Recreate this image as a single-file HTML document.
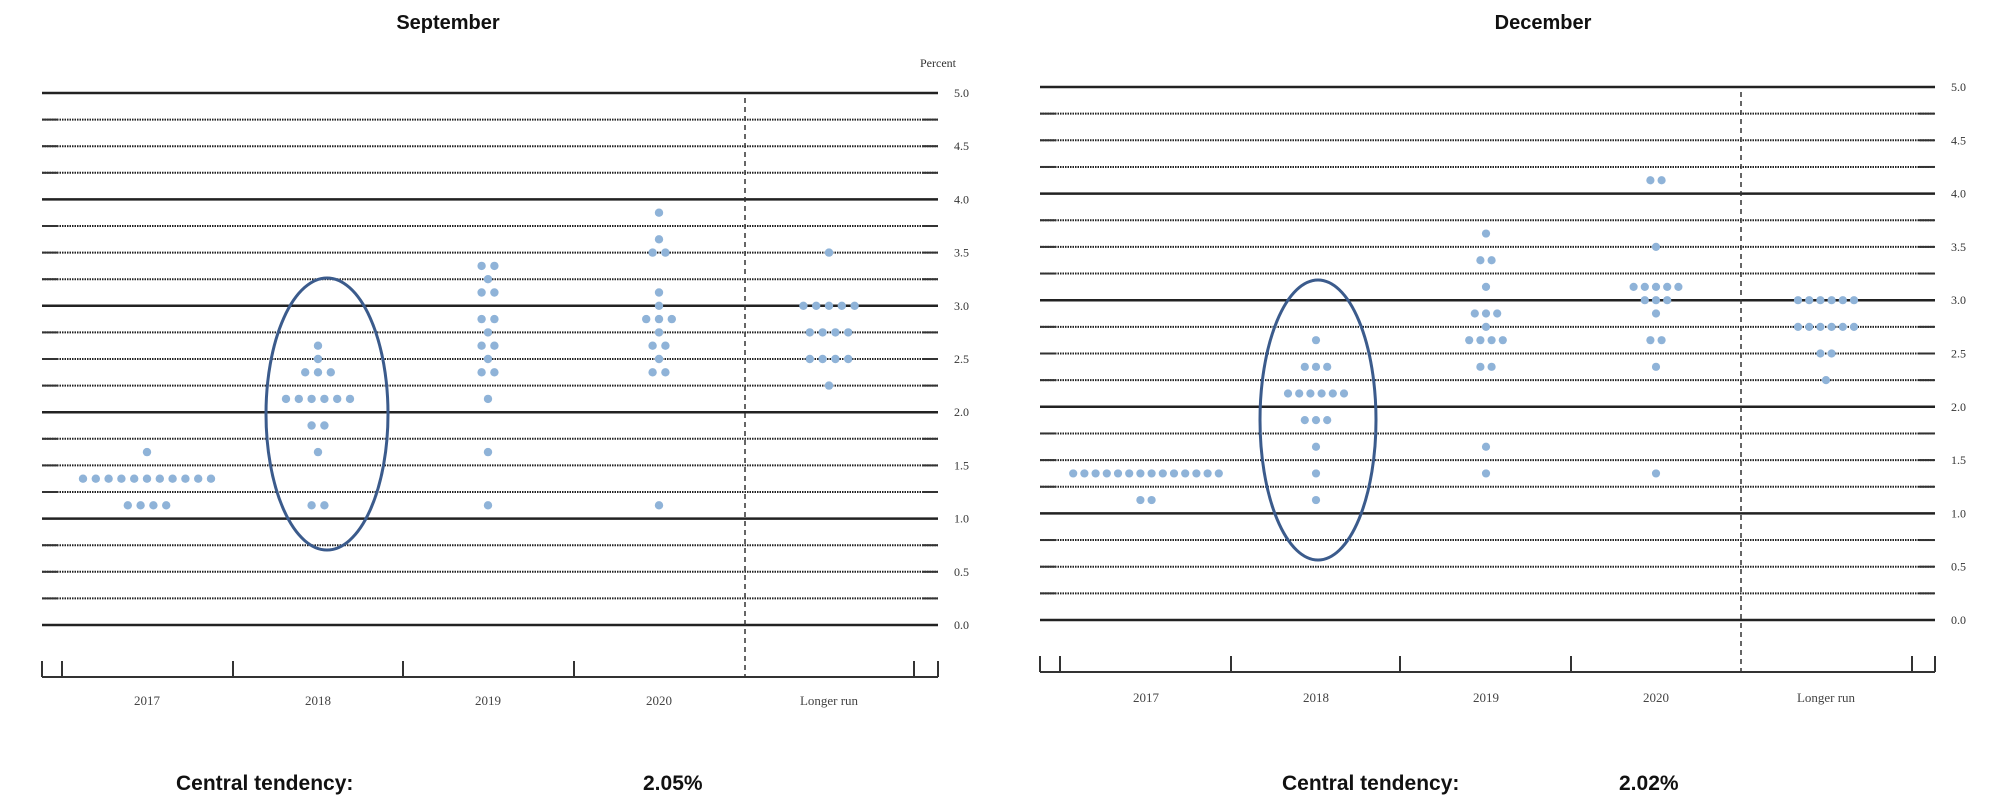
<!DOCTYPE html>
<html><head><meta charset="utf-8"><style>
html,body{margin:0;padding:0;background:#fff;}
svg{display:block;}
.t{font-family:"Liberation Sans",sans-serif;font-weight:bold;font-size:20px;fill:#111;}
.ax{font-family:"Liberation Serif",serif;font-size:12px;fill:#333;}
.yr{font-family:"Liberation Serif",serif;font-size:13px;fill:#444;}
.ct{font-family:"Liberation Sans",sans-serif;font-weight:bold;font-size:21px;fill:#111;}
</style></head><body>
<svg id="s" width="1996" height="808" xmlns="http://www.w3.org/2000/svg">
<text class="t" x="448" y="29" text-anchor="middle">September</text>
<text class="t" x="1543" y="29" text-anchor="middle">December</text>
<text class="ax" x="938" y="67" text-anchor="middle" font-size="10">Percent</text>
<text class="ct" x="176" y="790">Central tendency:</text>
<text class="ct" x="643" y="790">2.05%</text>
<text class="ct" x="1282" y="790">Central tendency:</text>
<text class="ct" x="1619" y="790">2.02%</text>
<g id="g"></g>
</svg>
<script>
var NS="http://www.w3.org/2000/svg",g=document.getElementById("g");
function el(n,a,t){var e=document.createElementNS(NS,n);for(var k in a)e.setAttribute(k,a[k]);if(t)e.textContent=t;g.appendChild(e);return e;}
function chart(c){
  var L=c.x0,R=c.x1,st=(c.y0-c.y5)/20;
  for(var i=0;i<=20;i++){var y=c.y0-i*st;
    if(i%4==0){el("line",{x1:L,x2:R,y1:y,y2:y,stroke:"#222","stroke-width":2.5});}
    else{el("line",{x1:L,x2:R,y1:y,y2:y,stroke:"#222","stroke-width":2,"stroke-dasharray":"1.5 1"});
      el("line",{x1:L,x2:L+16,y1:y,y2:y,stroke:"#333","stroke-width":2});
      el("line",{x1:R-16,x2:R,y1:y,y2:y,stroke:"#333","stroke-width":2});}
    if(i%2==0)el("text",{"class":"ax",x:R+16,y:y+4},(i/4).toFixed(1));
  }
  el("line",{x1:c.dash,x2:c.dash,y1:c.y5+5,y2:c.ab,stroke:"#333","stroke-width":1.5,"stroke-dasharray":"5 4"});
  el("line",{x1:L,x2:R,y1:c.ab,y2:c.ab,stroke:"#333","stroke-width":2});
  c.ticks.forEach(function(x){el("line",{x1:x,x2:x,y1:c.ab-16,y2:c.ab,stroke:"#333","stroke-width":2});});
  var names=["2017","2018","2019","2020","Longer run"];
  c.centers.forEach(function(x,j){el("text",{"class":"yr",x:x,y:c.yl,"text-anchor":"middle"},names[j]);
    c.d[j].forEach(function(p){var y=c.y0-p[0]*4*st,n=p[1];
      for(var k=0;k<n;k++){el("circle",{cx:x+(k-(n-1)/2)*c.sp,cy:y,r:c.r,fill:"#8fb3d8"});}});});
  el("ellipse",{cx:c.e[0],cy:c.e[1],rx:c.e[2],ry:c.e[3],fill:"none",stroke:"#3b5b8c","stroke-width":3});
}
chart({x0:42,x1:938,y0:625,y5:93,dash:745,ab:677,yl:705,
 ticks:[42,62,233,403,574,914,938],centers:[147,318,488,659,829],sp:12.8,r:4.2,
 e:[327,414,61,136],
 d:[[[1.625,1],[1.375,11],[1.125,4]],
    [[2.625,1],[2.5,1],[2.375,3],[2.125,6],[1.875,2],[1.625,1],[1.125,2]],
    [[3.375,2],[3.25,1],[3.125,2],[2.875,2],[2.75,1],[2.625,2],[2.5,1],[2.375,2],[2.125,1],[1.625,1],[1.125,1]],
    [[3.875,1],[3.625,1],[3.5,2],[3.125,1],[3.0,1],[2.875,3],[2.75,1],[2.625,2],[2.5,1],[2.375,2],[1.125,1]],
    [[3.5,1],[3.0,5],[2.75,4],[2.5,4],[2.25,1]]]});
chart({x0:1040,x1:1935,y0:620,y5:87,dash:1741,ab:672,yl:702,
 ticks:[1040,1060,1231,1400,1571,1912,1935],centers:[1146,1316,1486,1656,1826],sp:11.2,r:4.1,
 e:[1318,420,58,140],
 d:[[[1.375,14],[1.125,2]],
    [[2.625,1],[2.375,3],[2.125,6],[1.875,3],[1.625,1],[1.375,1],[1.125,1]],
    [[3.625,1],[3.375,2],[3.125,1],[2.875,3],[2.75,1],[2.625,4],[2.375,2],[1.625,1],[1.375,1]],
    [[4.125,2],[3.5,1],[3.125,5],[3.0,3],[2.875,1],[2.625,2],[2.375,1],[1.375,1]],
    [[3.0,6],[2.75,6],[2.5,2],[2.25,1]]]});
</script>
</body></html>
